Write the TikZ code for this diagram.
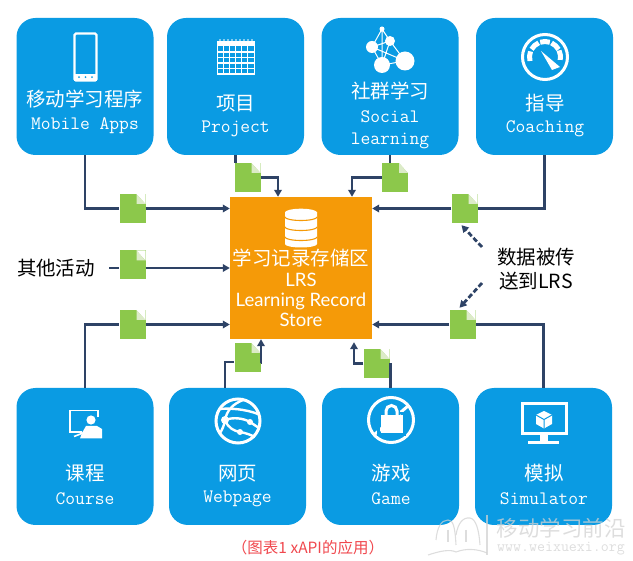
\documentclass[tikz,border=0pt]{standalone}
\usepackage{fontspec}
\newfontfamily\cjk{Noto Sans CJK SC}
\newfontfamily\lrsfont{Lato}
\usetikzlibrary{arrows.meta}
\definecolor{boxblue}{HTML}{0A9BE3}
\definecolor{lrsorange}{HTML}{F59A08}
\definecolor{docgreen}{HTML}{8CC84B}
\definecolor{docfold}{HTML}{DCEBC8}
\definecolor{linenavy}{HTML}{2E4366}
\definecolor{capred}{HTML}{F0484E}
\definecolor{wm}{HTML}{D2D2D2}
\tikzset{
  srcbox/.style={draw=none,fill=boxblue,rounded corners=19pt,minimum width=137pt,minimum height=137pt,inner sep=0pt},
  lrsbox/.style={fill=lrsorange,minimum width=142pt,minimum height=142pt,inner sep=0pt},
  docicon/.style={fill=docgreen,minimum width=26pt,minimum height=29pt,inner sep=0pt,
    path picture={
      \fill[white] ([xshift=-9pt]path picture bounding box.north east) -- (path picture bounding box.north east) -- ([yshift=-10pt]path picture bounding box.north east) -- cycle;
      \fill[docfold] ([xshift=-9pt]path picture bounding box.north east) -- ([yshift=-10pt]path picture bounding box.north east) -- ([xshift=-9pt,yshift=-10pt]path picture bounding box.north east) -- cycle;
    }},
  conn/.style={draw=linenavy,line width=2.4pt},
  arrowed/.style={conn,-{Triangle[length=7pt,width=7.5pt]}},
  dasharrow/.style={draw=linenavy,line width=2.8pt,dash pattern=on 5pt off 2.5pt,-{Triangle[length=7pt,width=7.5pt]}},
  zh/.style={text=white,font=\cjk\fontsize{19.5}{22}\selectfont,inner sep=0pt},
  en/.style={text=white,font=\ttfamily\fontsize{19}{22}\selectfont,inner sep=0pt},
  lrstext/.style={text=white,font=\lrsfont\fontsize{18.5}{20}\selectfont,inner sep=0pt},
  note/.style={text=black,font=\cjk\fontsize{19.5}{22}\selectfont,inner sep=0pt},
  icon/.style={draw=white,line width=2.4pt},
}
\begin{document}
\begin{tikzpicture}[x=1pt,y=-1pt]
\useasboundingbox (0,0) rectangle (633,561);
% sources
\node[srcbox] (mobile) at (85,86.5) {};
\node[srcbox] (project) at (235.5,86.5) {};
\node[srcbox] (social) at (390,86.5) {};
\node[srcbox] (coach) at (544.5,86.5) {};
\node[srcbox] (course) at (85,456.5) {};
\node[srcbox] (web) at (237.5,456.5) {};
\node[srcbox] (game) at (390.5,456.5) {};
\node[srcbox] (sim) at (543.5,456.5) {};
\node[lrsbox] (lrs) at (301,268) {};
% documents
\node[docicon] (d1) at (132.5,208.5) {};
\node[docicon] (d2) at (247.5,177.5) {};
\node[docicon] (d3) at (395,177.5) {};
\node[docicon] (d4) at (464.5,208.5) {};
\node[docicon] (d5) at (132.5,265) {};
\node[docicon] (d6) at (132.5,324.5) {};
\node[docicon] (d7) at (247.5,357.5) {};
\node[docicon] (d8) at (376.5,363.5) {};
\node[docicon] (d9) at (462.5,324.5) {};
% labels
\node[zh] (t1a) at (85,99.5) {移动学习程序};
\node[en] (t1b) at (85,125.5) {Mobile Apps};
\node[zh] (t2a) at (235.5,103.5) {项目};
\node[en] (t2b) at (235.5,128.5) {Project};
\node[zh] (t3a) at (390,91.5) {社群学习};
\node[en] (t3b) at (390,116.5) {Social};
\node[en] (t3c) at (390,140.5) {learning};
\node[zh] (t4a) at (545,103.5) {指导};
\node[en] (t4b) at (545,128.5) {Coaching};
\node[zh] (t5a) at (85,473.5) {课程};
\node[en] (t5b) at (85,498.5) {Course};
\node[zh] (t6a) at (237.5,473.5) {网页};
\node[en] (t6b) at (237.5,498.5) {Webpage};
\node[zh] (t7a) at (391,473.5) {游戏};
\node[en] (t7b) at (391,498.5) {Game};
\node[zh] (t8a) at (544,473.5) {模拟};
\node[en] (t8b) at (544,498.5) {Simulator};
\node[zh] (l1) at (301,258) {学习记录存储区};
\node[lrstext] (l2) at (301,280) {LRS};
\node[lrstext] (l3) at (301,301) {Learning Record};
\node[lrstext] (l4) at (301,320) {Store};
\node[note] (other) at (56,268) {其他活动};
\node[note] (n1) at (536,257) {数据被传};
\node[note] (n2) at (536,281) {送到LRS};
\node[inner sep=0pt,text=capred,font=\cjk\fontsize{15.5}{17}\selectfont] (cap) at (308,548) {（图表1 xAPI的应用）};
% connectors
\coordinate (p2) at ([xshift=-23pt]lrs.north);
\coordinate (p3) at ([xshift=51pt]lrs.north);
\coordinate (p7) at ([xshift=-40pt]lrs.south);
\coordinate (p8) at ([xshift=53pt,yshift=-3pt]lrs.south);
\coordinate (w7) at ([xshift=-12.5pt]web.north);
\draw[conn] (mobile.south) |- (d1.west);
\draw[arrowed] (d1.east) -- (lrs.west |- d1.east);
\draw[conn] (project.south) -- (project.south |- d2.north);
\draw[arrowed] (d2.east) -| (p2);
\draw[conn] (social.south) -- (social.south |- d3.north);
\draw[arrowed] (d3.west) -| (p3);
\draw[conn] (coach.south) |- (d4.east);
\draw[arrowed] (d4.west) -- (lrs.east |- d4.west);
\draw[conn] (other.east) ++(14pt,0pt) coordinate (o1) -- (d5.west |- o1);
\draw[arrowed] (d5.east |- o1) -- (lrs.west |- o1);
\draw[conn] (course.north) |- (d6.west);
\draw[arrowed] (d6.east) -- (lrs.west |- d6.east);
\draw[conn] (w7) |- ([yshift=-4.5pt]d7.west);
\draw[arrowed] ([yshift=-5.5pt]d7.east) -| (p7);
\draw[conn] (game.north) -- (game.north |- d8.east);
\draw[arrowed] (d8.west) -| (p8);
\draw[conn] (sim.north) |- (d9.east);
\draw[arrowed] (d9.west) -- (lrs.east |- d9.west);
\coordinate (a1) at (482,247);
\coordinate (a2) at (482,283);
\draw[dasharrow] (a1) -- ([xshift=-3pt,yshift=-2pt]d4.south);
\draw[dasharrow] (a2) -- ([xshift=-3pt,yshift=2pt]d9.north);
% phone
\draw[icon,rounded corners=1.5pt] (74.5,33.5) rectangle (96.5,80.5);
\fill[white] (74,74.5) rectangle (97,81);
\fill[boxblue] (79,77.2) circle (1pt) (85.5,77.2) circle (1pt) (92,77.2) circle (1pt);
% calendar
\draw[draw=white,line width=1.6pt] (217.5,42) rectangle (254.5,74);
\fill[white] (217,41) rectangle (255,46.5);
\foreach \x in {223.5,229.5,235.5,241.5,247.5} \draw[white,line width=1.2pt] (\x,46) -- (\x,74);
\foreach \y in {52,57.5,63,68.5} \draw[white,line width=1.2pt] (217.5,\y) -- (254.5,\y);
\foreach \x in {220,224,228,232,236,240,244,248,252} \fill[white] (\x,40) circle (0.9pt);
% network
\draw[white,line width=1pt] (382,29) -- (390,41) -- (405,61) -- (382,65) -- (372,47) -- (382,29) -- (382,65) -- (390,41) -- (372,47) -- (405,61);
\fill[white] (382,29) circle (2.5pt) (390,41) circle (5pt) (372,47) circle (6pt) (382,65) circle (8pt) (405,61) circle (9.5pt);
% gauge
\draw[white,line width=3pt] (545,57) circle (22.5pt);
\foreach \a in {-195,-150,-108,-65,-25}
  \draw[white,line width=5pt] ([shift={(545,57)}]\a:15.5) arc[start angle=\a,delta angle=36,radius=15.5];
\fill[white] (541,51) -- (560,67) -- (552,70) -- cycle;
% course
\draw[white,line width=1.6pt] (82,432) -- (70,432) -- (70,410.5) -- (98,410.5) -- (98,417);
\draw[white,line width=1.6pt] (74,436.5) -- (83,433);
\fill[white] (91,420) circle (4.6pt);
\fill[white] (80,438.5) -- (82,433) -- (86,426) -- (97,426) -- (102,429) -- (102,438.5) -- cycle;
% globe
\draw[white,line width=3pt] (238,421) circle (22pt);
\draw[white,line width=2.4pt] (225,420) .. controls (227,410) and (233,404) .. (243,400);
\draw[white,line width=2.4pt] (219,409) .. controls (230,408) and (245,409) .. (258,414);
\draw[white,line width=2.4pt] (225,420) .. controls (233,417) and (243,418) .. (250,422) .. controls (253,424) and (256,426) .. (259,428);
\draw[white,line width=2.4pt] (225,420) .. controls (228,428) and (234,431) .. (240,432) .. controls (246,433) and (251,435) .. (255,437);
\draw[white,line width=2.4pt] (225,420) .. controls (224,426) and (222,430) .. (220,433);
\fill[white] (225,420) circle (4pt) (250,422) circle (3pt) (240,432) circle (3pt);
% lock
\draw[white,line width=3pt] (391,420) circle (22.5pt);
\draw[white,line width=3pt] (375,434) -- (408,406);
\draw[boxblue,line width=2.5pt] (378.5,413) rectangle (404.5,434.5);
\fill[boxblue] (383,402) rectangle (399.5,415);
\draw[white,line width=3pt] (386,416) -- (386,411) arc[start angle=180,end angle=360,radius=5.5] -- (397,416);
\fill[white] (380.5,415.5) rectangle (402.5,433);
% monitor
\draw[white,line width=3pt] (522,403.5) rectangle (566,433.5);
\fill[white] (540,434) rectangle (548,441);
\fill[white] (528,441) rectangle (559,444);
\fill[white] (544,411) -- (552,415) -- (552,424) -- (544,428.5) -- (536,424) -- (536,415) -- cycle;
\draw[boxblue,line width=1pt] (536,415) -- (544,419.5) -- (552,415) (544,419.5) -- (544,428.5);
% database
\fill[white] (285,212) -- (285,244) arc[start angle=180,end angle=0,x radius=16,y radius=3.5] -- (317,212) -- cycle;
\fill[white] (301,212.5) ellipse[x radius=16,y radius=3.8];
\draw[lrsorange,line width=1.1pt] (285,217) arc[start angle=180,end angle=0,x radius=16,y radius=3.5];
\draw[lrsorange,line width=1.1pt] (285,227) arc[start angle=180,end angle=0,x radius=16,y radius=3.5];
\draw[lrsorange,line width=1.1pt] (285,237) arc[start angle=180,end angle=0,x radius=16,y radius=3.5];
% watermark
\begin{scope}[opacity=.75]
\draw[wm,line width=1.1pt] (428,555) .. controls (440,551) and (450,549) .. (456,552) .. controls (466,548) and (478,549) .. (487,553);
\draw[wm,line width=1.1pt] (436,540) .. controls (437,528) and (441,520) .. (448,520) .. controls (453,520) and (455,526) .. (456,545);
\draw[wm,line width=1.1pt] (456,535) .. controls (458,523) and (463,517) .. (470,518) .. controls (476,519) and (479,530) .. (480,545);
\draw[wm,line width=1.1pt] (487,515) -- (487,555);
\draw[wm,line width=1.1pt] (448,530) -- (448,542) (466,530) -- (466,542);
\node[text=wm,font=\cjk\fontsize{21.5}{23}\selectfont,inner sep=0pt] (w1) at (561,528) {移动学习前沿};
\node[text=wm,font=\ttfamily\fontsize{15.5}{17}\selectfont,inner sep=0pt] (w2) at (561,549) {www.weixuexi.org};
\end{scope}
\end{tikzpicture}
\end{document}
